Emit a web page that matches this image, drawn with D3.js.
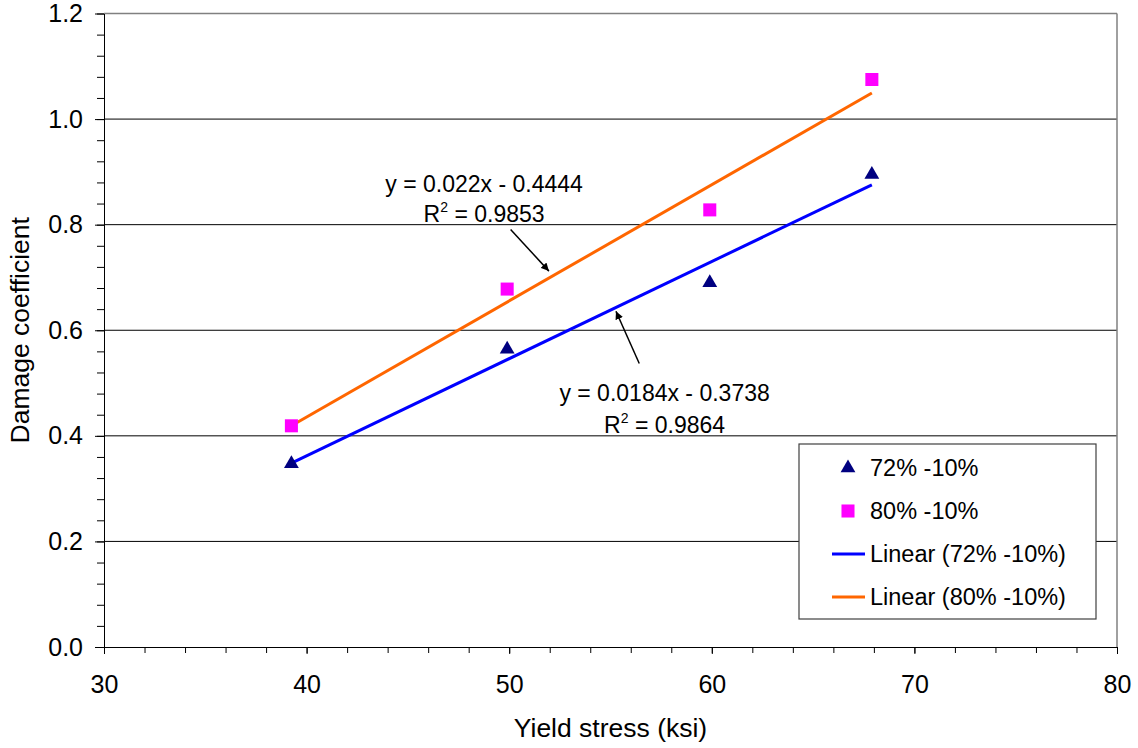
<!DOCTYPE html>
<html>
<head>
<meta charset="utf-8">
<script src="https://cdn.jsdelivr.net/npm/d3@7.9.0/dist/d3.min.js"></script>
<style>
  body { margin: 0; background: #fff; }
  svg text { font-family: "Liberation Sans", Arial, sans-serif; fill: #000; }
</style>
</head>
<body>
<div id="chart"></div>
<script>
// Data
const seriesNames = ["72% -10%", "80% -10%"];
const yieldStress72 = [39.25, 49.9, 59.9, 67.9];
const damage72 = [0.347, 0.564, 0.690, 0.895];
const yieldStress80 = [39.25, 49.9, 59.9, 67.9];
const damage80 = [0.419, 0.678, 0.828, 1.075];

// Trendline coefficients as printed on the chart
const trendSlopes = [0.0184, 0.022];
const trendIntercepts = [-0.3738, -0.4444];
const trendR2 = [0.9864, 0.9853];

const xTicks = [30, 40, 50, 60, 70, 80];
const yTicks = [0, 0.2, 0.4, 0.6, 0.8, 1.0, 1.2];

const WIDTH = 1138, HEIGHT = 748;
const margin = { top: 13.5, right: 21, bottom: 101, left: 104 };
const innerW = WIDTH - margin.left - margin.right;
const innerH = HEIGHT - margin.top - margin.bottom;

const svg = d3.select("#chart").append("svg")
  .attr("width", WIDTH)
  .attr("height", HEIGHT);

const g = svg.append("g")
  .attr("transform", `translate(${margin.left},${margin.top})`);

const x = d3.scaleLinear().domain([30, 80]).range([0, innerW]);
const y = d3.scaleLinear().domain([0, 1.2]).range([innerH, 0]);

// gridlines (black), top + right border gray
g.selectAll("line.grid")
  .data(yTicks.filter(v => v > 0 && v < 1.2))
  .join("line")
  .attr("class", "grid")
  .attr("x1", 0).attr("x2", innerW)
  .attr("y1", d => y(d)).attr("y2", d => y(d))
  .attr("stroke", "#000").attr("stroke-width", 1);

g.append("line")
  .attr("x1", 0).attr("x2", innerW).attr("y1", y(1.2)).attr("y2", y(1.2))
  .attr("stroke", "#808080").attr("stroke-width", 1.5);
g.append("line")
  .attr("x1", innerW).attr("x2", innerW).attr("y1", y(1.2)).attr("y2", innerH)
  .attr("stroke", "#808080").attr("stroke-width", 1.5);

// axes: minor ticks first, then majors with labels
const xMinor = d3.range(30, 80.01, 2);
const yMinor = d3.range(0, 1.2001, 0.04);

g.append("g")
  .attr("transform", `translate(0,${innerH})`)
  .call(d3.axisBottom(x).tickValues(xMinor).tickFormat("").tickSize(6).tickSizeOuter(0))
  .call(a => a.selectAll("line, path").attr("stroke", "#000"));

g.append("g")
  .attr("transform", `translate(0,${innerH})`)
  .call(d3.axisBottom(x).tickValues(xTicks).tickFormat(d3.format("d")).tickSize(7).tickSizeOuter(0).tickPadding(21))
  .call(a => a.select(".domain").remove())
  .call(a => a.selectAll("line").attr("stroke", "#000"))
  .call(a => a.selectAll("text").attr("font-size", 25).attr("font-family", "Liberation Sans, Arial, sans-serif"));

g.append("g")
  .call(d3.axisLeft(y).tickValues(yMinor).tickFormat("").tickSize(7).tickSizeOuter(0))
  .call(a => a.selectAll("line, path").attr("stroke", "#000"));

g.append("g")
  .call(d3.axisLeft(y).tickValues(yTicks).tickFormat(d3.format(".1f")).tickSize(9).tickSizeOuter(0).tickPadding(12))
  .call(a => a.select(".domain").remove())
  .call(a => a.selectAll("line").attr("stroke", "#000"))
  .call(a => a.selectAll("text").attr("font-size", 25).attr("font-family", "Liberation Sans, Arial, sans-serif"));

// axis titles
svg.append("text")
  .attr("x", margin.left + innerW / 2).attr("y", 736.5)
  .attr("text-anchor", "middle").attr("font-size", 26.5)
  .text("Yield stress (ksi)");

svg.append("text")
  .attr("transform", `translate(29,${margin.top + innerH / 2}) rotate(-90)`)
  .attr("text-anchor", "middle").attr("font-size", 26.5)
  .text("Damage coefficient");

// trendlines over the data range
const trendColors = ["#0000FF", "#FF6600"];
const xs = [yieldStress72, yieldStress80];
const trendData = trendSlopes.map((m, i) => {
  const [lo, hi] = d3.extent(xs[i]);
  return [[lo, m * lo + trendIntercepts[i]], [hi, m * hi + trendIntercepts[i]]];
});
g.selectAll("path.trend")
  .data(trendData)
  .join("path")
  .attr("class", "trend")
  .attr("d", d3.line().x(d => x(d[0])).y(d => y(d[1])))
  .attr("fill", "none")
  .attr("stroke", (d, i) => trendColors[i])
  .attr("stroke-width", 3);

// markers
const pts72 = yieldStress72.map((v, i) => ({ x: v, y: damage72[i] }));
const pts80 = yieldStress80.map((v, i) => ({ x: v, y: damage80[i] }));
const triangle = d3.symbol().type(d3.symbolTriangle).size(95);
const square = d3.symbol().type(d3.symbolSquare).size(170);

g.selectAll("path.m80")
  .data(pts80).join("path")
  .attr("class", "m80")
  .attr("transform", d => `translate(${x(d.x)},${y(d.y)})`)
  .attr("d", square).attr("fill", "#FF00FF");

g.selectAll("path.m72")
  .data(pts72).join("path")
  .attr("class", "m72")
  .attr("transform", d => `translate(${x(d.x)},${y(d.y)})`)
  .attr("d", triangle).attr("fill", "#000080");

// equation labels and arrows (anchors in data units)
svg.append("defs").append("marker")
  .attr("id", "arrow").attr("viewBox", "0 0 10 10")
  .attr("refX", 10).attr("refY", 5)
  .attr("markerWidth", 8).attr("markerHeight", 8)
  .attr("markerUnits", "userSpaceOnUse")
  .attr("orient", "auto")
  .append("path").attr("d", "M0,0 L10,5 L0,10 Z").attr("fill", "#000");

const labels = [
  { cx: 57.67, y1: 0.4666, y2: 0.4048, i: 0, arrow: [[56.42, 0.537], [55.27, 0.636]] },
  { cx: 48.76, y1: 0.8625, y2: 0.8056, i: 1, arrow: [[50.07, 0.791], [51.96, 0.712]] }
];

labels.forEach(l => {
  const m = trendSlopes[l.i], b = trendIntercepts[l.i];
  g.append("text")
    .attr("x", x(l.cx)).attr("y", y(l.y1))
    .attr("text-anchor", "middle").attr("font-size", 23)
    .text(`y = ${m}x - ${Math.abs(b)}`);
  const t = g.append("text")
    .attr("x", x(l.cx)).attr("y", y(l.y2))
    .attr("text-anchor", "middle").attr("font-size", 23);
  t.append("tspan").text("R");
  t.append("tspan").attr("font-size", 14).attr("dy", -10).text("2");
  t.append("tspan").attr("dy", 10).text(` = ${trendR2[l.i]}`);

  g.append("line")
    .attr("x1", x(l.arrow[0][0])).attr("y1", y(l.arrow[0][1]))
    .attr("x2", x(l.arrow[1][0])).attr("y2", y(l.arrow[1][1]))
    .attr("stroke", "#000").attr("stroke-width", 1.5)
    .attr("marker-end", "url(#arrow)");
});

// legend
const legend = g.append("g")
  .attr("transform", `translate(${innerW - 318},${430.5})`);
legend.append("rect")
  .attr("x", 0).attr("y", 0).attr("width", 297).attr("height", 175)
  .attr("fill", "#fff").attr("stroke", "#404040").attr("stroke-width", 1.2);

const legendItems = [
  { label: seriesNames[0], kind: "tri" },
  { label: seriesNames[1], kind: "sq" },
  { label: `Linear (${seriesNames[0]})`, kind: "line", color: trendColors[0] },
  { label: `Linear (${seriesNames[1]})`, kind: "line", color: trendColors[1] }
];

legendItems.forEach((it, i) => {
  const cy = 24 + i * 43;
  if (it.kind === "tri") {
    legend.append("path").attr("transform", `translate(49,${cy})`)
      .attr("d", triangle).attr("fill", "#000080");
  } else if (it.kind === "sq") {
    legend.append("path").attr("transform", `translate(49,${cy})`)
      .attr("d", square).attr("fill", "#FF00FF");
  } else {
    legend.append("line")
      .attr("x1", 33).attr("x2", 66).attr("y1", cy).attr("y2", cy)
      .attr("stroke", it.color).attr("stroke-width", 3);
  }
  legend.append("text")
    .attr("x", 71).attr("y", cy).attr("dy", "0.36em")
    .attr("font-size", 23.5)
    .text(it.label);
});
</script>
</body>
</html>
